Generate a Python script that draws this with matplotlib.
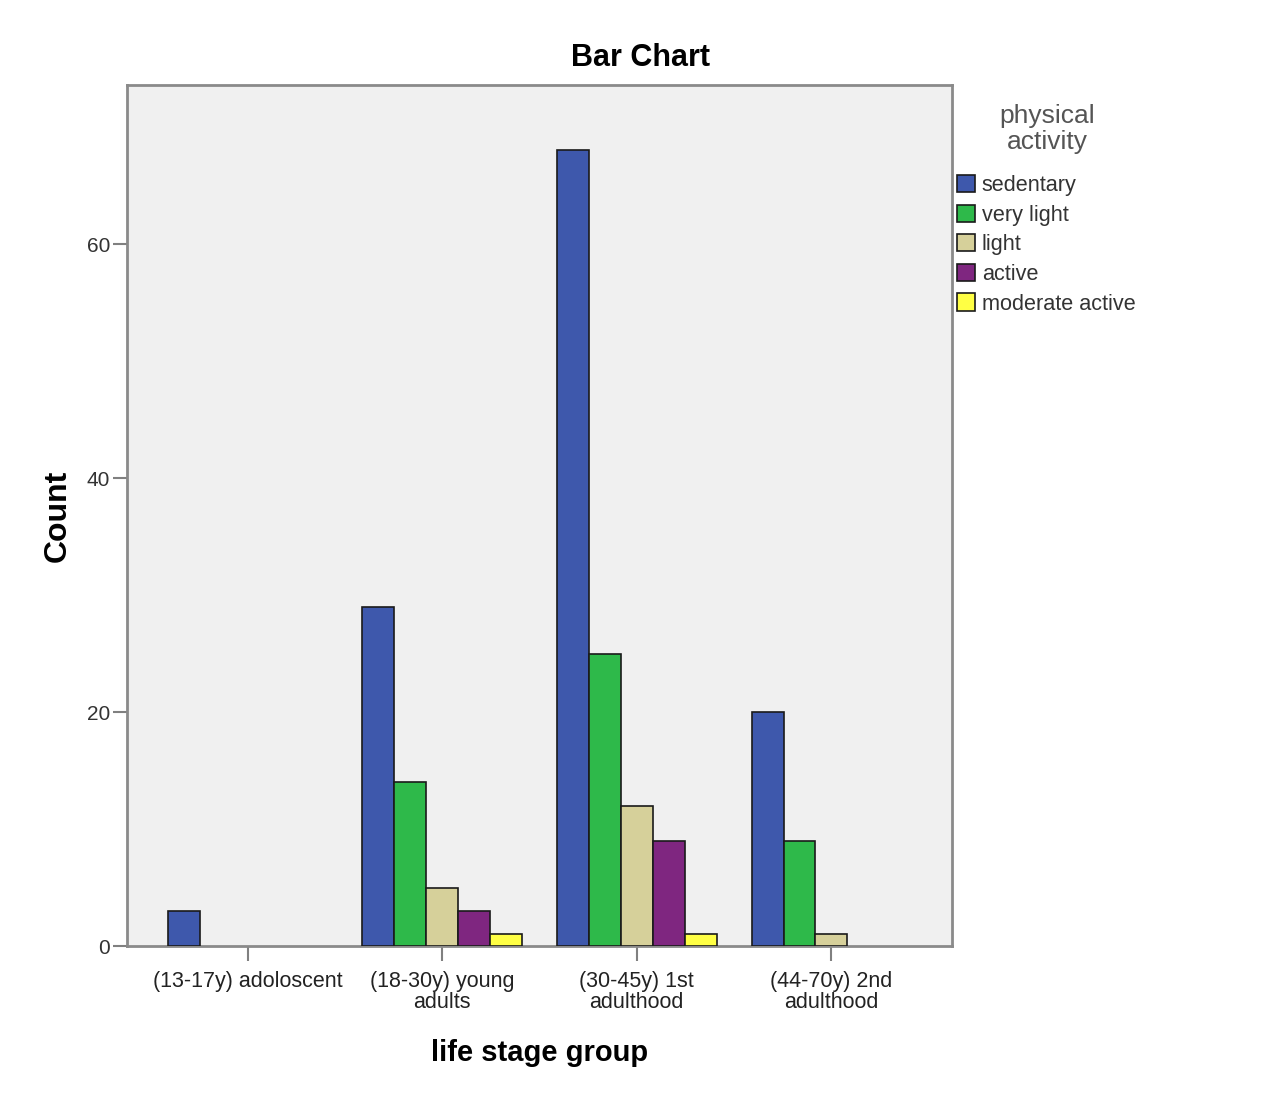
import numpy as np
import matplotlib
matplotlib.use("Agg")
import matplotlib.pyplot as plt
from matplotlib.patches import Patch

plt.rcParams['font.family'] = ['Liberation Sans', 'DejaVu Sans']

grupos = ["(13-17y) adoloscent", "(18-30y) young\nadults",
          "(30-45y) 1st\nadulthood", "(44-70y) 2nd\nadulthood"]
atividades = ["sedentary", "very light", "light", "active", "moderate active"]
cores = ["#3E58AC", "#2EB94A", "#D6D09A", "#7F2680", "#FFFF44"]

sedentary = [3, 29, 68, 20]
very_light = [0, 14, 25, 9]
light = [0, 5, 12, 1]
active = [0, 3, 9, 0]
moderate_active = [0, 1, 1, 0]
contagens = [sedentary, very_light, light, active, moderate_active]

fig = plt.figure(figsize=(12.75, 11.08), dpi=100)
ax = fig.add_axes([0.0996, 0.1462, 0.6471, 0.7771])
ax.set_facecolor("#F0F0F0")

x = np.arange(len(grupos))
largura = 0.164
for i, (nome, vals) in enumerate(zip(atividades, contagens)):
    barras = ax.bar(x + (i - 2) * largura, vals, width=largura, color=cores[i],
                    edgecolor="#1a1a1a", linewidth=1.2, zorder=3)
    # barras com contagem zero nao aparecem
    for b, v in zip(barras, vals):
        if v == 0:
            b.set_visible(False)

ax.set_xlim(-0.62, 3.62)
ax.set_ylim(0, 73.6)
ax.set_yticks([0, 20, 40, 60])
ax.set_xticks(x)
ax.set_xticklabels(grupos, fontsize=15.5, linespacing=1.0, color="#222222")
ax.tick_params(axis='y', labelsize=15, length=10, width=1.5, color="#808080",
               labelcolor="#333333", pad=2)
ax.tick_params(axis='x', length=11, width=1.5, color="#808080", pad=7)

for s in ax.spines.values():
    s.set_color("#8a8a8a")
    s.set_linewidth(2)

ax.set_ylabel("Count", fontsize=23, fontweight='bold')
ax.yaxis.set_label_coords(-0.066, 0.5)
ax.set_xlabel("life stage group", fontsize=21, fontweight='bold', va='top')
ax.xaxis.set_label_coords(0.5, -0.108)

fig.text(0.502, 1 - 58 / 1108, "Bar Chart", ha='center', va='center',
         fontsize=22, fontweight='bold')

fig.text(1047 / 1275, 1 - 129 / 1108, "physical\nactivity", ha='center',
         va='center', multialignment='center', fontsize=19, color="#555555",
         linespacing=1.15)

handles = [Patch(facecolor=c, edgecolor="#1a1a1a", linewidth=1.2) for c in cores]
leg = fig.legend(handles, atividades, loc='upper left',
                 bbox_to_anchor=(957 / 1275, 1 - 175 / 1108),
                 frameon=False, fontsize=15.6, handlelength=0.85,
                 handleheight=0.85, handletextpad=0.3, labelspacing=0.39,
                 borderaxespad=0, borderpad=0)
for t in leg.get_texts():
    t.set_color("#333333")

fig.savefig("out.png", dpi=100)
